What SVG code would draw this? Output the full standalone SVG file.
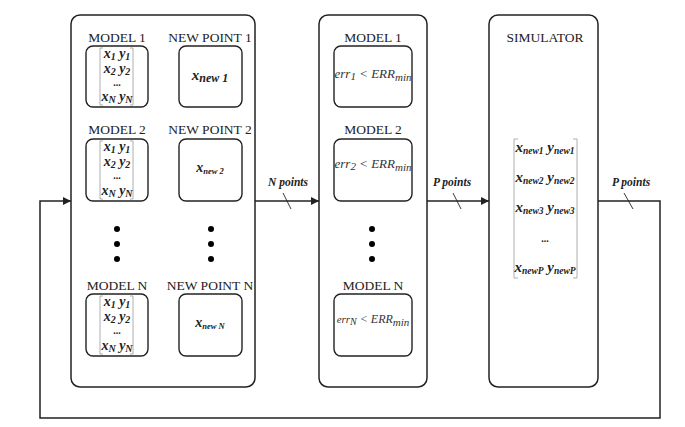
<svg xmlns="http://www.w3.org/2000/svg" width="685" height="427" viewBox="0 0 685 427">
<defs>
<style>
.big{fill:#fff;stroke:#222;stroke-width:1.5}
.sm{fill:#fff;stroke:#222;stroke-width:1.4}
.con{fill:none;stroke:#222;stroke-width:1.5}
.thin{fill:none;stroke:#222;stroke-width:0.9}
.br{fill:none;stroke:#999;stroke-width:0.8}
.lbl{font-family:"Liberation Serif",serif;font-size:13.5px;fill:#222;text-anchor:middle}
.mx{font-family:"Liberation Serif",serif;font-size:14px;font-weight:bold;font-style:italic;fill:#222;text-anchor:middle}
.ell{font-family:"Liberation Serif",serif;font-size:10px;font-weight:bold;fill:#222;text-anchor:middle}
.err{font-family:"Liberation Serif",serif;font-size:13px;font-style:italic;fill:#333;text-anchor:middle}
.pt{font-family:"Liberation Serif",serif;font-size:11.5px;font-weight:bold;font-style:italic;fill:#222;text-anchor:middle}
.sub{font-size:10px}
.sub2{font-size:9.5px}
.dot{fill:#000}
</style>
<marker id="ah" viewBox="0 0 10 10" refX="10" refY="5" markerWidth="8" markerHeight="8" markerUnits="userSpaceOnUse" orient="auto"><path d="M0,0 L10,5 L0,10 z" fill="#222"/></marker>
<marker id="ahs" viewBox="0 0 10 10" refX="10" refY="5" markerWidth="5" markerHeight="5" markerUnits="userSpaceOnUse" orient="auto"><path d="M0,0 L10,5 L0,10 z" fill="#222"/></marker>
</defs>
<rect width="685" height="427" fill="#fff"/>

<g id="connectors">
<path class="con" d="M255,201 H319" marker-end="url(#ah)"/>
<path class="con" d="M427,201 H489" marker-end="url(#ah)"/>
<path class="con" d="M598,201 H660 V418 H40 V201 H71" marker-end="url(#ah)"/>
<line class="thin" x1="283" y1="193" x2="291" y2="209"/>
<line class="thin" x1="453" y1="193" x2="461" y2="209"/>
<line class="thin" x1="624" y1="193" x2="633" y2="209"/>
<text class="pt" x="288" y="186">N points</text>
<text class="pt" x="452" y="186">P points</text>
<text class="pt" x="631" y="186">P points</text>
<path class="thin" d="M148,77 H179" marker-end="url(#ahs)"/>
<path class="thin" d="M148,170 H179" marker-end="url(#ahs)"/>
<path class="thin" d="M148,325 H179" marker-end="url(#ahs)"/>
</g>

<g id="models-block">
<rect class="big" x="71" y="15" width="184" height="372" rx="9"/>
</g>

<g id="model-1">
<text class="lbl" x="117" y="42">MODEL 1</text>
<rect class="sm" x="86" y="46" width="62" height="61" rx="7"/>
<path class="br" d="M103,48 H100 V105 H103 M130,48 H133 V105 H130"/>
<text class="mx" x="117" y="58">x<tspan class="sub" dy="2">1</tspan><tspan dy="-2"> y</tspan><tspan class="sub" dy="2">1</tspan></text>
<text class="mx" x="117" y="73">x<tspan class="sub" dy="2">2</tspan><tspan dy="-2"> y</tspan><tspan class="sub" dy="2">2</tspan></text>
<text class="ell" x="117" y="86">...</text>
<text class="mx" x="117" y="101">x<tspan class="sub" dy="2">N</tspan><tspan dy="-2"> y</tspan><tspan class="sub" dy="2">N</tspan></text>
</g>
<g id="new-point-1">
<text class="lbl" x="210" y="42">NEW POINT 1</text>
<rect class="sm" x="179" y="46" width="63" height="61" rx="7"/>
<text class="mx" x="210" y="80" style="font-size:15px">x<tspan dy="2" style="font-size:12px">new 1</tspan></text>
</g>

<g id="model-2">
<text class="lbl" x="117" y="134">MODEL 2</text>
<rect class="sm" x="86" y="139" width="62" height="62" rx="7"/>
<path class="br" d="M103,141 H100 V199 H103 M130,141 H133 V199 H130"/>
<text class="mx" x="117" y="151">x<tspan class="sub" dy="2">1</tspan><tspan dy="-2"> y</tspan><tspan class="sub" dy="2">1</tspan></text>
<text class="mx" x="117" y="166">x<tspan class="sub" dy="2">2</tspan><tspan dy="-2"> y</tspan><tspan class="sub" dy="2">2</tspan></text>
<text class="ell" x="117" y="179">...</text>
<text class="mx" x="117" y="195">x<tspan class="sub" dy="2">N</tspan><tspan dy="-2"> y</tspan><tspan class="sub" dy="2">N</tspan></text>
</g>
<g id="new-point-2">
<text class="lbl" x="210" y="134">NEW POINT 2</text>
<rect class="sm" x="179" y="139" width="63" height="62" rx="7"/>
<text class="mx" x="210" y="172" style="font-size:14px">x<tspan dy="2" style="font-size:8.5px">new 2</tspan></text>
</g>

<g id="dots-left">
<circle class="dot" cx="117" cy="229" r="3"/>
<circle class="dot" cx="117" cy="244" r="3"/>
<circle class="dot" cx="117" cy="259" r="3"/>
<circle class="dot" cx="211" cy="229" r="3"/>
<circle class="dot" cx="211" cy="244" r="3"/>
<circle class="dot" cx="211" cy="259" r="3"/>
</g>

<g id="model-n">
<text class="lbl" x="117" y="290">MODEL N</text>
<rect class="sm" x="86" y="294" width="62" height="62" rx="7"/>
<path class="br" d="M103,296 H100 V354 H103 M130,296 H133 V354 H130"/>
<text class="mx" x="117" y="306">x<tspan class="sub" dy="2">1</tspan><tspan dy="-2"> y</tspan><tspan class="sub" dy="2">1</tspan></text>
<text class="mx" x="117" y="321">x<tspan class="sub" dy="2">2</tspan><tspan dy="-2"> y</tspan><tspan class="sub" dy="2">2</tspan></text>
<text class="ell" x="117" y="334">...</text>
<text class="mx" x="117" y="350">x<tspan class="sub" dy="2">N</tspan><tspan dy="-2"> y</tspan><tspan class="sub" dy="2">N</tspan></text>
</g>
<g id="new-point-n">
<text class="lbl" x="210" y="290">NEW POINT N</text>
<rect class="sm" x="179" y="294" width="63" height="62" rx="7"/>
<text class="mx" x="210" y="327" style="font-size:14px">x<tspan dy="2" style="font-size:8.5px">new N</tspan></text>
</g>

<g id="check-block">
<rect class="big" x="319" y="15" width="108" height="372" rx="9"/>
</g>
<g id="check-1">
<text class="lbl" x="373" y="42">MODEL 1</text>
<rect class="sm" x="334" y="46" width="78" height="61" rx="7"/>
<text class="err" x="373" y="78">err<tspan dy="2" style="font-size:11px">1</tspan><tspan dy="-2"> &lt; ERR</tspan><tspan dy="3" style="font-size:11px">min</tspan></text>
</g>
<g id="check-2">
<text class="lbl" x="373" y="134">MODEL 2</text>
<rect class="sm" x="334" y="139" width="78" height="62" rx="7"/>
<text class="err" x="373" y="168">err<tspan dy="2" style="font-size:11px">2</tspan><tspan dy="-2"> &lt; ERR</tspan><tspan dy="3" style="font-size:11px">min</tspan></text>
</g>
<g id="dots-mid">
<circle class="dot" cx="372" cy="229" r="3"/>
<circle class="dot" cx="372" cy="244" r="3"/>
<circle class="dot" cx="372" cy="259" r="3"/>
</g>
<g id="check-n">
<text class="lbl" x="373" y="290">MODEL N</text>
<rect class="sm" x="334" y="294" width="78" height="62" rx="7"/>
<text class="err" x="373" y="323" style="font-size:11px">err<tspan dy="2" style="font-size:10px">N</tspan><tspan dy="-2" style="font-size:12px"> &lt; ERR</tspan><tspan dy="3" style="font-size:11px">min</tspan></text>
</g>

<g id="simulator">
<rect class="big" x="489" y="15" width="109" height="372" rx="9"/>
<text class="lbl" x="545" y="42">SIMULATOR</text>
<path class="br" d="M518,139 H514 V278 H518 M573,139 H577 V278 H573"/>
<text class="mx" x="545" y="152" style="font-size:15px">x<tspan class="sub2" dy="2">new1</tspan><tspan dy="-2"> y</tspan><tspan class="sub2" dy="2">new1</tspan></text>
<text class="mx" x="545" y="182" style="font-size:15px">x<tspan class="sub2" dy="2">new2</tspan><tspan dy="-2"> y</tspan><tspan class="sub2" dy="2">new2</tspan></text>
<text class="mx" x="545" y="212" style="font-size:15px">x<tspan class="sub2" dy="2">new3</tspan><tspan dy="-2"> y</tspan><tspan class="sub2" dy="2">new3</tspan></text>
<text class="ell" x="545" y="242">...</text>
<text class="mx" x="545" y="272" style="font-size:15px">x<tspan class="sub2" dy="2">newP</tspan><tspan dy="-2"> y</tspan><tspan class="sub2" dy="2">newP</tspan></text>
</g>
</svg>
